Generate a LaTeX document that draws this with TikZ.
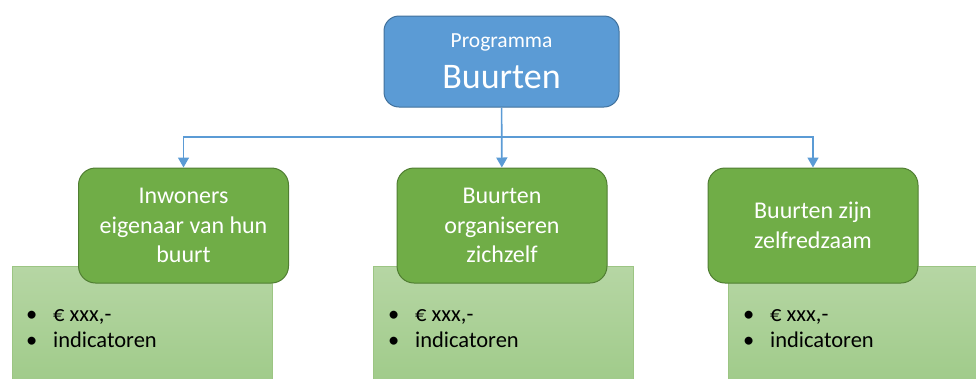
\documentclass[tikz,border=0pt]{standalone}
\usepackage{fontspec}
\setmainfont{Carlito}
\usetikzlibrary{arrows.meta}
\definecolor{progblue}{HTML}{5B9BD5}
\definecolor{progline}{HTML}{41719C}
\definecolor{goalgreen}{HTML}{70AD47}
\definecolor{goalline}{HTML}{507E32}
\definecolor{costtop}{HTML}{B6D6A4}
\definecolor{costbot}{HTML}{A0CB8A}
\definecolor{costline}{HTML}{9CC583}
\newcommand{\costlist}{\makebox[23pt][l]{\hspace{-4pt}\textbullet}€ xxx,-\\\makebox[23pt][l]{\hspace{-4pt}\textbullet}indicatoren}
\begin{document}
\begin{tikzpicture}[x=1pt,y=-1pt]
			\tikzset{prog/.style = {shape=rectangle,rounded corners=15pt,fill=progblue,draw=progline,line width=1pt,
				minimum width=235pt,minimum height=91pt,text=white,align=center,font=\fontsize{21.5}{41}\selectfont}}
			\tikzset{goal/.style = {shape=rectangle,rounded corners=17pt,fill=goalgreen,draw=goalline,line width=1pt,
				minimum width=210pt,minimum height=115pt,text=white,align=center,font=\fontsize{24}{29.5}\selectfont}}
			\tikzset{cost/.style = {shape=rectangle,top color=costtop,bottom color=costbot,draw=costline,line width=.6pt,
				minimum width=260pt,minimum height=116pt}}
			\tikzset{costtext/.style = {anchor=west,inner sep=0pt,align=left,font=\fontsize{22.5}{26}\selectfont}}
			\tikzset{edge/.style = {-{Triangle[width=11pt,length=10pt]},draw=progblue,line width=1.6pt}}
			\useasboundingbox (0,0) rectangle (976,378);
			% Draw budget boxes
			\node[cost] (costA) at (142,324) {};
			\node[cost] (costB) at (503,324) {};
			\node[cost] (costC) at (858,324) {};
			\node[costtext] (listA) at (30,329) {\costlist};
			\node[costtext] (listB) at (392,329) {\costlist};
			\node[costtext] (listC) at (747,329) {\costlist};
			% Draw programme and goals
			\node[prog] (prog) at (501.5,61.5) {Programma\\{\fontsize{36}{41}\selectfont Buurten}};
			\node[goal] (inw) at (183.5,225.5) {Inwoners\\eigenaar van hun\\buurt};
			\node[goal] (org) at (502,225.5) {Buurten\\organiseren\\zichzelf};
			\node[goal] (zelf) at (813,225.5) {Buurten zijn\\zelfredzaam};
			% Connectors
			\coordinate (fork) at (501.5,137);
			\draw[edge] (prog) -- (org);
			\draw[edge] (fork) -| (inw);
			\draw[edge] (fork) -| (zelf);
\end{tikzpicture}
\end{document}
